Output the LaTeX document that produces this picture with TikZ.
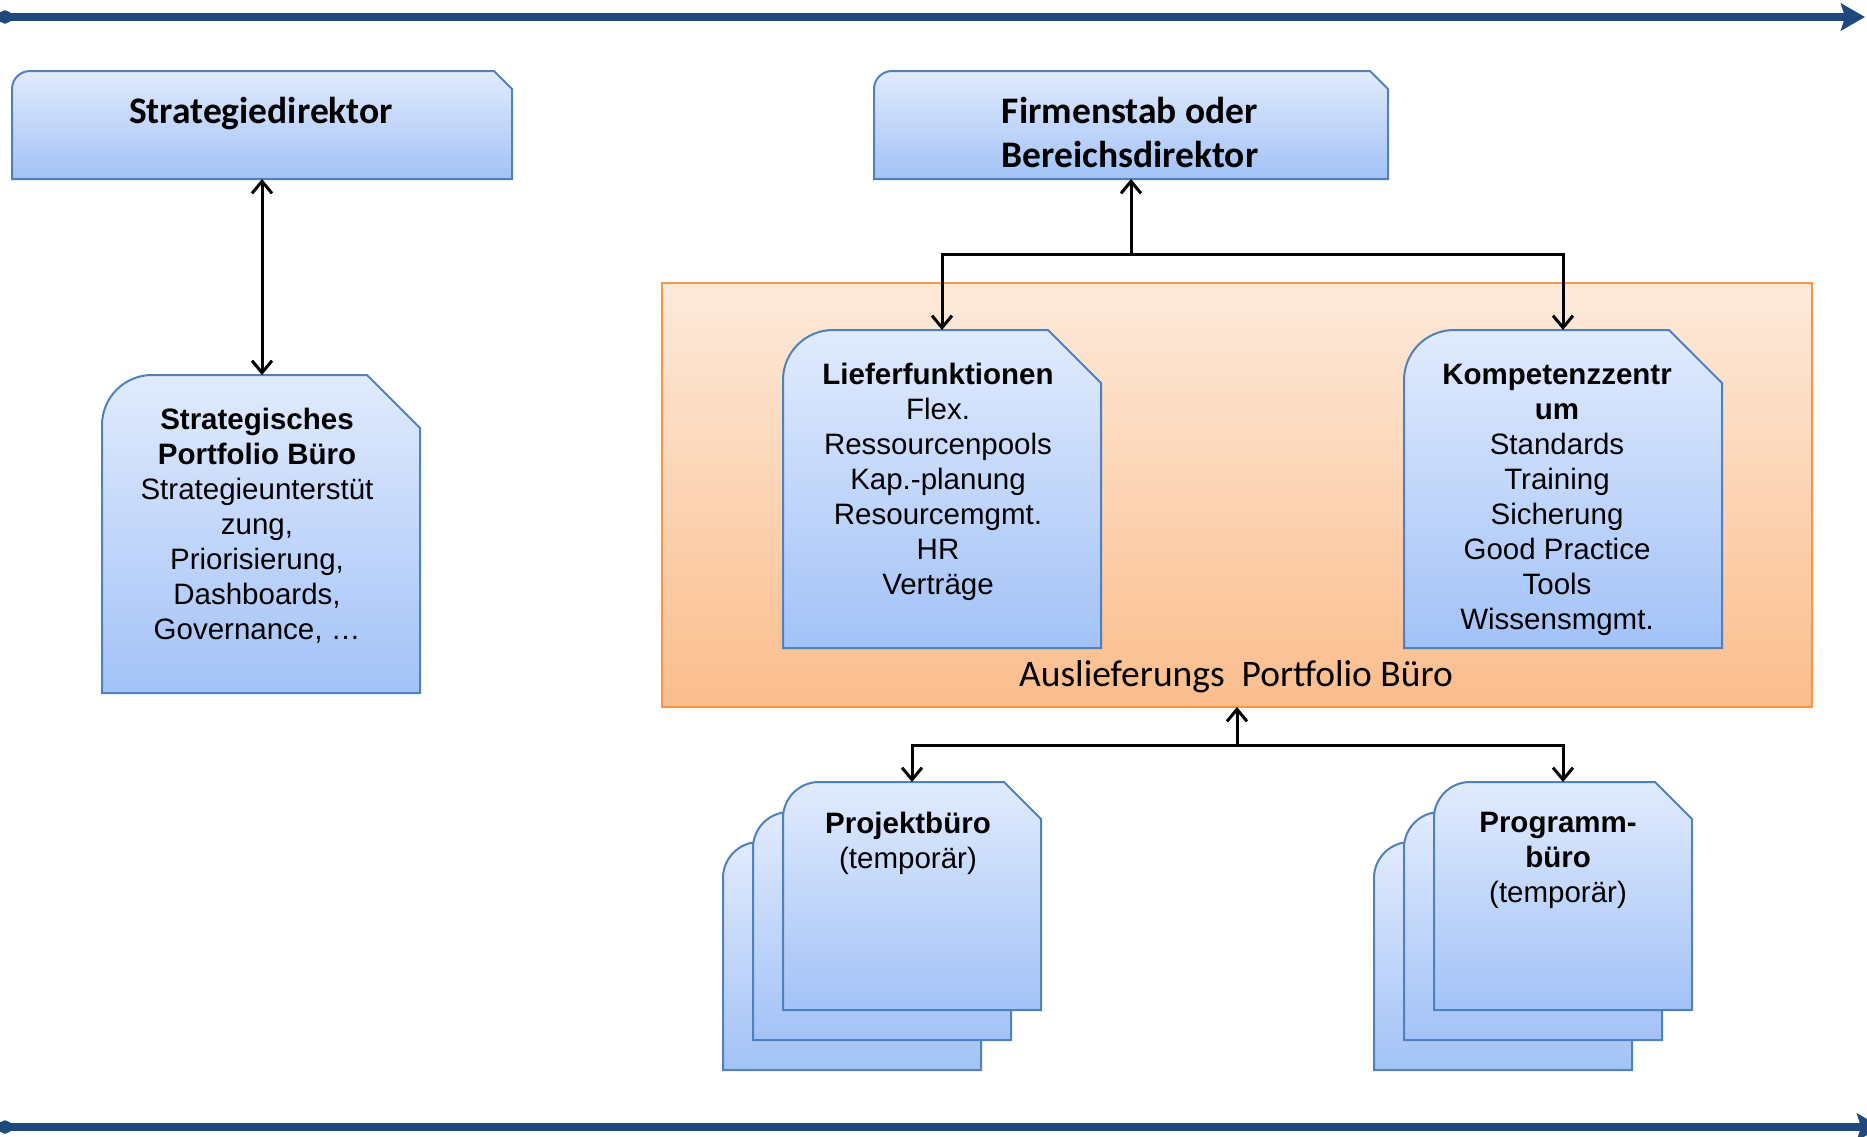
\documentclass[tikz,border=0pt]{standalone}
\usepackage{fontspec}
\setmainfont{Liberation Sans}
\newfontfamily\calfont{Carlito}
\usetikzlibrary{arrows.meta,calc}

\definecolor{cardtop}{HTML}{E1EBFD}
\definecolor{cardbot}{HTML}{A3C2F7}
\definecolor{cardline}{HTML}{4F81BD}
\definecolor{zonetop}{HTML}{FDEADB}
\definecolor{zonebot}{HTML}{FBBD8C}
\definecolor{zoneline}{HTML}{F79646}
\definecolor{axisblue}{HTML}{1F497D}

\tikzset{
  cardframe/.style={rectangle, inner sep=0pt, outer sep=0pt},
  cardfill/.style={draw=cardline, line width=2pt, top color=cardtop, bottom color=cardbot},
  zonebox/.style={rectangle, inner sep=0pt, outer sep=0pt, draw=zoneline, line width=2pt,
    top color=zonetop, bottom color=zonebot},
  body/.style={align=center, inner sep=0pt, anchor=north, font=\fontsize{29.5}{35}\selectfont},
  head/.style={align=center, inner sep=0pt, anchor=north, font=\calfont\fontsize{37.5}{44}\selectfont\bfseries},
  zonelabel/.style={inner sep=0pt, anchor=base, font=\calfont\fontsize{37.5}{44}\selectfont},
  link/.style={draw=black, line width=3pt},
  barb/.tip={Straight Barb[length=12pt,width=20pt]},
  axisline/.style={draw=axisblue, line width=8pt,
    {Circle[length=13pt]}-{Stealth[length=24pt,width=27pt,inset=4pt]}},
}

% card with rounded top-left corner and cut top-right corner
% #1 name, #2 left, #3 top, #4 right, #5 bottom, #6 corner radius, #7 cut size
\newcommand{\card}[7]{%
  \node[cardframe, minimum width={(#4-#2)*1pt}, minimum height={(#5-#3)*1pt}]
    (#1) at ({(#2+#4)/2},{(#3+#5)/2}) {};
  \draw[cardfill] (#1.south west) -- ([yshift=-#6pt]#1.north west)
    arc[start angle=180, end angle=90, radius=#6pt]
    -- ([xshift=-#7pt]#1.north east) -- ([yshift=-#7pt]#1.north east)
    -- (#1.south east) -- cycle;
}

\begin{document}
\begin{tikzpicture}[x=1pt, y=-1pt]
\useasboundingbox (0,0) rectangle (1867,1136);
\clip (0,0) rectangle (1867,1136);

% time axes
\coordinate (topL) at (-1.5,17);
\coordinate (topR) at (1865,17);
\coordinate (botL) at (-1.5,1127);
\coordinate (botR) at (1881,1127);
\draw[axisline] (topL) -- (topR);
\draw[axisline] (botL) -- (botR);

% delivery portfolio office zone
\node[zonebox, minimum width=1150pt, minimum height=424pt] (apb) at (1237,495) {};
\node[zonelabel] (apblabel) at (1236,686) {Auslieferungs\ \ Portfolio Büro};

% top level
\card{sd}{12}{71}{512}{179}{18}{18}
\node[head] (sdtext) at (261,97) {Strategiedirektor};
\card{fs}{874}{71}{1388}{179}{18}{18}
\node[head] (fstext) at (1130,97) {Firmenstab oder\\Bereichsdirektor};

% strategic portfolio office
\card{spb}{102}{375}{420}{693}{50}{53}
\node[body] (spbtext) at (257,408) {\textbf{Strategisches}\\\textbf{Portfolio Büro}\\Strategieunterstüt\\zung,\\Priorisierung,\\Dashboards,\\Governance, \dots};

% delivery functions and competence centre
\card{lf}{783}{330}{1101}{648}{50}{53}
\node[body] (lftext) at (938,363) {\textbf{Lieferfunktionen}\\Flex.\\Ressourcenpools\\Kap.-planung\\Resourcemgmt.\\HR\\Verträge};
\card{kz}{1404}{330}{1722}{648}{50}{53}
\node[body] (kztext) at (1557,364) {\textbf{Kompetenzzentr}\\\textbf{um}\\Standards\\Training\\Sicherung\\Good Practice\\Tools\\Wissensmgmt.};

% temporary project offices
\card{pb3}{723}{842}{981}{1070}{36}{37}
\card{pb2}{753}{812}{1011}{1040}{36}{37}
\card{pb1}{783}{782}{1041}{1010}{36}{37}
\node[body] (pbtext) at (908,812) {\textbf{Projektbüro}\\(temporär)};

\card{pg3}{1374}{842}{1632}{1070}{36}{37}
\card{pg2}{1404}{812}{1662}{1040}{36}{37}
\card{pg1}{1434}{782}{1692}{1010}{36}{37}
\node[body] (pgtext) at (1558,812) {\textbf{Programm-}\\\textbf{büro}\\(temporär)};

% connectors
\draw[link, barb-barb] (sd.south) -- (sd.south |- spb.north);

\path (fs.south) ++(0,75) coordinate (fsj);
\draw[link, barb-barb] (lf.north) |- (fsj) -| (kz.north);
\draw[link, -barb] (fsj) -- (fs.south);

\path (apb.south) ++(0,38) coordinate (apbj);
\draw[link, barb-barb] (pb1.north) |- (apbj) -| (pg1.north);
\draw[link, -barb] (apbj) -- (apb.south);
\end{tikzpicture}
\end{document}
